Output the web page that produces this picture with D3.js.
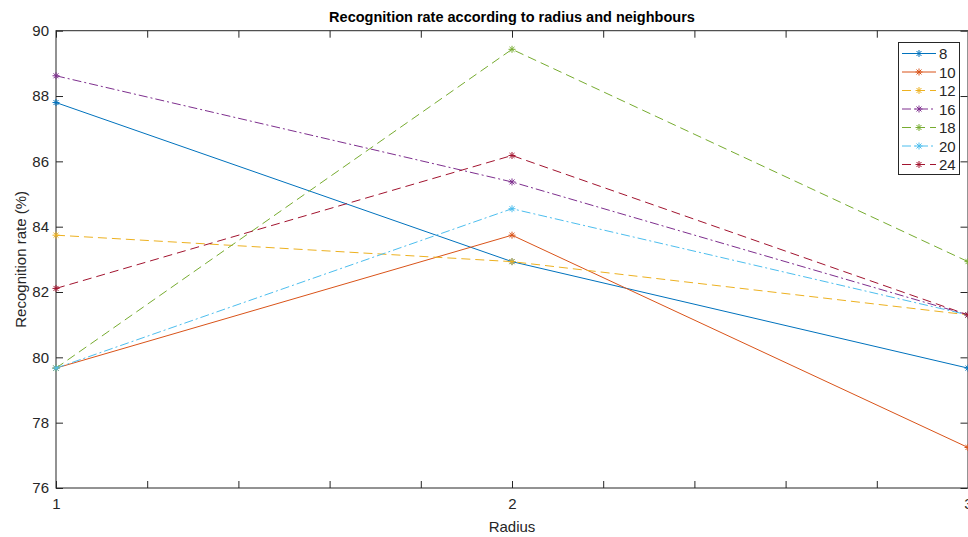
<!DOCTYPE html>
<html>
<head>
<meta charset="utf-8">
<script src="https://cdn.jsdelivr.net/npm/d3@7"></script>
<style>
  body { margin: 0; background: #fff; }
  svg { display: block; font-family: "Liberation Sans", Arial, sans-serif; }
</style>
</head>
<body>
<svg id="chart" width="968" height="537"></svg>
<script>
// radius values on x
const radius = [1, 2, 3];
// neighbour counts (series names)
const neighbours = ['8', '10', '12', '16', '18', '20', '24'];
// recognition rates per series, at radius 1, 2, 3
const rate8 = [87.80, 82.93, 79.67];
const rate10 = [79.67, 83.74, 77.24];
const rate12 = [83.74, 82.93, 81.30];
const rate16 = [88.62, 85.37, 81.30];
const rate18 = [79.67, 89.43, 82.93];
const rate20 = [79.67, 84.55, 81.30];
const rate24 = [82.11, 86.18, 81.30];
const yTicks = [76, 78, 80, 82, 84, 86, 88, 90];
const xTicks = [1, 1.2, 1.4, 1.6, 1.8, 2, 2.2, 2.4, 2.6, 2.8, 3];

const allRates = [rate8, rate10, rate12, rate16, rate18, rate20, rate24];
const colors = ['#0072BD', '#D95319', '#EDB120', '#7E2F8E', '#77AC30', '#4DBEEE', '#A2142F'];
// solid, solid, dashed, dash-dot, dashed, dash-dot, dashed
const dashes = [null, null, '9,5', '9,3,2,3', '9,5', '9,3,2,3', '9,5'];

const svg = d3.select('#chart');
const mLeft = 56, mRight = 968, mTop = 30.7, mBottom = 488;

const x = d3.scaleLinear().domain([1, 3]).range([mLeft, mRight]);
const y = d3.scaleLinear().domain([76, 90]).range([mBottom, mTop]);

const axisColor = '#262626';

// box
svg.append('rect')
    .attr('x', mLeft).attr('y', mTop)
    .attr('width', mRight - mLeft).attr('height', mBottom - mTop)
    .attr('fill', 'none').attr('stroke', axisColor).attr('stroke-width', 1);

// x ticks (bottom and top, inward)
const fmtX = d => Number.isInteger(d) ? d : '';
svg.append('g')
    .attr('transform', `translate(0,${mBottom})`)
    .call(d3.axisBottom(x).tickValues(xTicks).tickSize(-7).tickPadding(10).tickFormat(fmtX))
    .call(g => g.select('.domain').remove());
svg.append('g')
    .attr('transform', `translate(0,${mTop})`)
    .call(d3.axisTop(x).tickValues(xTicks).tickSize(-7).tickFormat(''))
    .call(g => g.select('.domain').remove());

// y ticks (left with labels, right mirrored)
svg.append('g')
    .attr('transform', `translate(${mLeft},0)`)
    .call(d3.axisLeft(y).tickValues(yTicks).tickSize(-7).tickPadding(7))
    .call(g => g.select('.domain').remove());
svg.append('g')
    .attr('transform', `translate(${mRight - 0.5},0)`)
    .call(d3.axisRight(y).tickValues(yTicks).tickSize(-7).tickFormat(''))
    .call(g => g.select('.domain').remove());

svg.selectAll('.tick line').attr('stroke', axisColor);
svg.selectAll('.tick text')
    .attr('fill', axisColor)
    .style('font-size', '15px')
    .style('font-family', '"Liberation Sans", Arial, sans-serif');

// title and axis labels
svg.append('text')
    .attr('x', (mLeft + mRight) / 2).attr('y', 22)
    .attr('text-anchor', 'middle')
    .style('font-size', '14.5px').style('font-weight', 'bold')
    .text('Recognition rate according to radius and neighbours');

svg.append('text')
    .attr('x', (mLeft + mRight) / 2).attr('y', 532)
    .attr('text-anchor', 'middle')
    .attr('fill', axisColor)
    .style('font-size', '15px')
    .text('Radius');

svg.append('text')
    .attr('transform', `translate(26,${(mTop + mBottom) / 2}) rotate(-90)`)
    .attr('text-anchor', 'middle')
    .attr('fill', axisColor)
    .style('font-size', '15px')
    .text('Recognition rate (%)');

// asterisk marker path
function star(r) {
    const d = r * Math.SQRT1_2;
    return `M${-r},0L${r},0M0,${-r}L0,${r}M${-d},${-d}L${d},${d}M${-d},${d}L${d},${-d}`;
}

const line = d3.line()
    .x((d, i) => x(radius[i]))
    .y(d => y(d));

const plot = svg.append('g');

allRates.forEach((vals, k) => {
    plot.append('path')
        .datum(vals)
        .attr('d', line)
        .attr('fill', 'none')
        .attr('stroke', colors[k])
        .attr('stroke-width', 1)
        .attr('stroke-dasharray', dashes[k]);
    plot.selectAll(null)
        .data(vals)
        .enter().append('path')
        .attr('d', star(3.5))
        .attr('transform', (d, i) => `translate(${x(radius[i])},${y(d)})`)
        .attr('stroke', colors[k])
        .attr('stroke-width', 1)
        .attr('fill', 'none');
});

// legend
const lg = svg.append('g');
lg.append('rect')
    .attr('x', 898.5).attr('y', 42.5)
    .attr('width', 61).attr('height', 132)
    .attr('fill', '#fff').attr('stroke', axisColor).attr('stroke-width', 1);

neighbours.forEach((name, k) => {
    const cy = 53.5 + k * 18.5;
    lg.append('line')
        .attr('x1', 902).attr('x2', 936)
        .attr('y1', cy).attr('y2', cy)
        .attr('stroke', colors[k])
        .attr('stroke-width', 1)
        .attr('stroke-dasharray', dashes[k]);
    lg.append('path')
        .attr('d', star(3.5))
        .attr('transform', `translate(919,${cy})`)
        .attr('stroke', colors[k])
        .attr('fill', 'none');
    lg.append('text')
        .attr('x', 939).attr('y', cy + 5.5)
        .attr('fill', axisColor)
        .style('font-size', '15px')
        .text(name);
});
</script>
</body>
</html>
